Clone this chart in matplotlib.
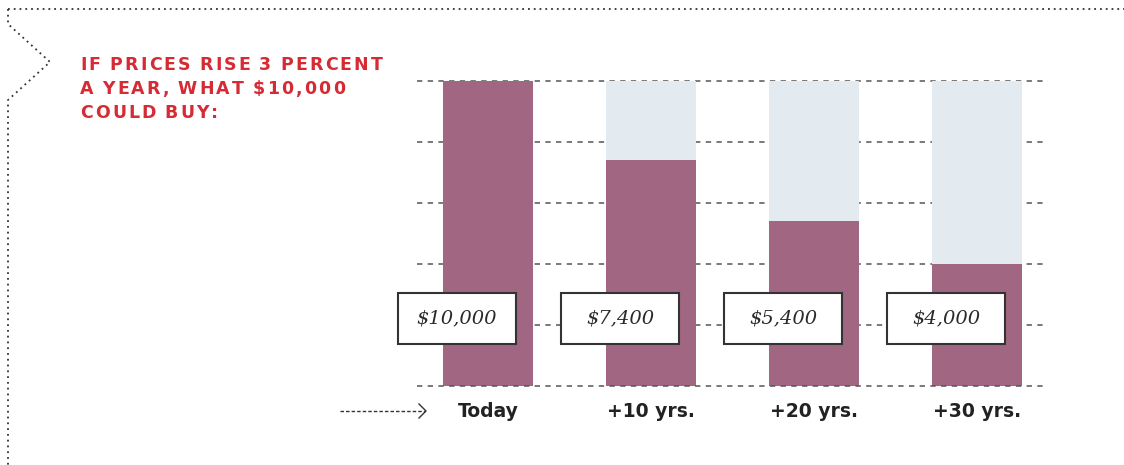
import matplotlib
matplotlib.use('Agg')
import matplotlib.pyplot as plt
from matplotlib.patches import Rectangle
from matplotlib.lines import Line2D

# данные
periods = ['Today', '+10 yrs.', '+20 yrs.', '+30 yrs.']
values = [10000, 7400, 5400, 4000]
value_labels = ['$10,000', '$7,400', '$5,400', '$4,000']
full_value = 10000
grid_levels = [0, 2000, 4000, 6000, 8000, 10000]
title_lines = ['IF PRICES RISE 3 PERCENT', 'A YEAR, WHAT $10,000', 'COULD BUY:']

W, H = 1124, 465
fig = plt.figure(figsize=(W / 100, H / 100), dpi=100)

def fx(px):
    return px / W

def fy(py):
    return 1 - py / H

ax = fig.add_axes([fx(417), fy(386), fx(1048) - fx(417), fy(81) - fy(386)])
ax.set_xlim(-0.4356, 3.4356)
ax.set_ylim(0, full_value)
ax.axis('off')

x = range(len(periods))
bw = 0.552
ax.bar(x, [full_value] * len(periods), width=bw, color='#e3ebf0', zorder=2)
ax.bar(x, values, width=bw, color='#a16681', zorder=2.5)

# пунктирные линии сетки
for lev in grid_levels:
    z = 3 if lev == 0 else 1
    ax.axhline(lev, color='#555555', lw=1.1, ls=(0, (3.5, 3.5)), zorder=z, clip_on=False)

# подписи в рамках
box_w, box_h = 0.724, 1672
box_yc = 2213
for i, lab in enumerate(value_labels):
    cx = i - 0.19
    ax.add_patch(Rectangle((cx - box_w / 2, box_yc - box_h / 2), box_w, box_h,
                           facecolor='white', edgecolor='#333333', lw=1.5, zorder=4,
                           clip_on=False))
    ax.text(cx, box_yc, lab, ha='center', va='center', fontsize=14,
            family='DejaVu Serif', style='italic', color='#2a2a2a', zorder=5)

# подписи по оси x
for i, p in enumerate(periods):
    ax.text(i, -850, p, ha='center', va='center', fontsize=13.5, fontweight='bold',
            color='#222222')

# заголовок с разрядкой букв
renderer = fig.canvas.get_renderer()
track = 2.2
for k, line in enumerate(title_lines):
    xpos = 80
    for ch in line:
        t = fig.text(fx(xpos), fy(70 + 24 * k), ch, ha='left', va='baseline',
                     fontsize=12.5, fontweight='bold', color='#d62a35',
                     family='DejaVu Sans')
        if ch == ' ':
            w = 4.5
        else:
            w = t.get_window_extent(renderer).width
        xpos += w + track

# точечная рамка
dot = dict(color='#333333', lw=1.3, ls=(0, (1, 2.2)))
fig.add_artist(Line2D([fx(8), fx(1124)], [fy(9), fy(9)], **dot))
fig.add_artist(Line2D([fx(8), fx(8), fx(50), fx(8), fx(8)],
                      [fy(9), fy(24), fy(62), fy(100), fy(465)], **dot))

# стрелка
fig.add_artist(Line2D([fx(340), fx(425)], [fy(411), fy(411)],
                      color='#333333', lw=1, ls=(0, (2.5, 1.5))))
fig.add_artist(Line2D([fx(419), fx(426), fx(419)], [fy(404), fy(411), fy(418)],
                      color='#333333', lw=1))

fig.savefig('out.png', dpi=100)
